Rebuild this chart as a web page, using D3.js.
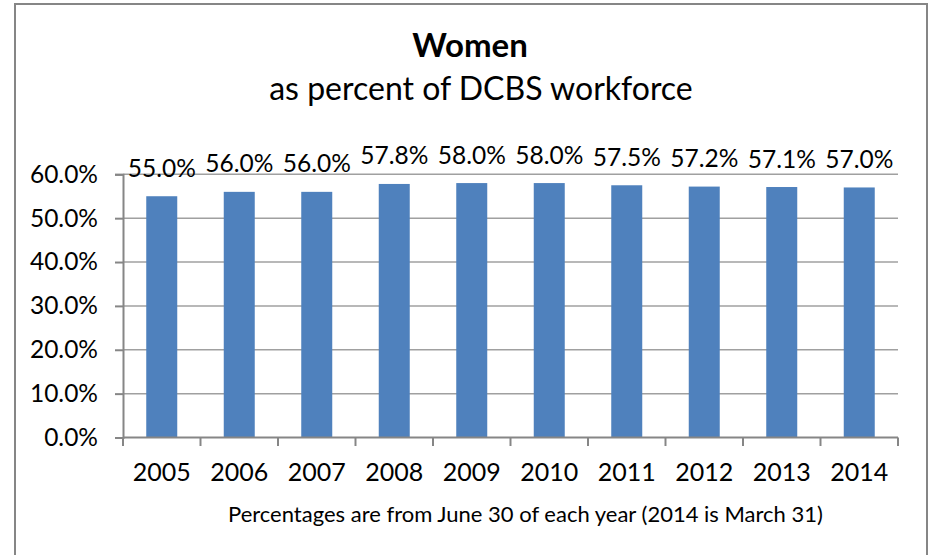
<!DOCTYPE html>
<html>
<head>
<meta charset="utf-8">
<script src="https://cdn.jsdelivr.net/npm/d3@7"></script>
<style>
  body { margin: 0; background: #fff; }
  svg { display: block; }
  text { font-family: Lato, "Open Sans", sans-serif; fill: #000; }
</style>
</head>
<body>
<svg id="chart" width="932" height="555"></svg>
<script>
// Women as a share of the DCBS workforce, by year
const years = ["2005", "2006", "2007", "2008", "2009", "2010", "2011", "2012", "2013", "2014"];
const womenPct = [55.0, 56.0, 56.0, 57.8, 58.0, 58.0, 57.5, 57.2, 57.1, 57.0];
const yTicks = [0, 10, 20, 30, 40, 50, 60];
const titleText = "Women";
const subtitleText = "as percent of DCBS workforce";
const noteText = "Percentages are from June 30 of each year (2014 is March 31)";

const svg = d3.select("#chart");
const plot = { left: 123, right: 898, top: 174.3, bottom: 437.5 };

// outer chart frame
svg.append("rect")
  .attr("x", 15).attr("y", 4)
  .attr("width", 912).attr("height", 570)
  .attr("fill", "#fff")
  .attr("stroke", "#868686").attr("stroke-width", 2);

const x = d3.scaleBand()
  .domain(years)
  .range([plot.left, plot.right])
  .paddingInner(0.6)
  .paddingOuter(0.3);

const y = d3.scaleLinear()
  .domain([0, 60])
  .range([plot.bottom, plot.top]);

// horizontal gridlines
svg.append("g")
  .selectAll("line")
  .data(yTicks.filter(d => d > 0))
  .join("line")
  .attr("x1", plot.left).attr("x2", plot.right)
  .attr("y1", d => y(d)).attr("y2", d => y(d))
  .attr("stroke", "#a0a0a0").attr("stroke-width", 1.5);

// y axis
const yAxis = svg.append("g")
  .attr("transform", `translate(${plot.left},0)`)
  .call(d3.axisLeft(y).tickValues(yTicks).tickSize(8).tickPadding(17)
    .tickFormat(d => d.toFixed(1) + "%"));
yAxis.select(".domain").attr("stroke", "#868686").attr("stroke-width", 2);
yAxis.selectAll(".tick line").attr("stroke", "#868686").attr("stroke-width", 2);
yAxis.selectAll(".tick text")
  .style("font-family", "Lato, 'Open Sans', sans-serif")
  .style("font-size", "24.5px").attr("fill", "#000");

// bars
svg.append("g")
  .selectAll("rect")
  .data(years.map((yr, i) => ({ yr, v: womenPct[i] })))
  .join("rect")
  .attr("x", d => x(d.yr))
  .attr("y", d => y(d.v))
  .attr("width", x.bandwidth())
  .attr("height", d => y(0) - y(d.v))
  .attr("fill", "#4f81bd");

// x axis line and category boundary ticks
const step = x.step();
const gap = step - x.bandwidth();
const bounds = years.map(yr => x(yr) - gap / 2).concat([x(years[years.length - 1]) + x.bandwidth() + gap / 2]);
svg.append("line")
  .attr("x1", plot.left).attr("x2", plot.right)
  .attr("y1", y(0)).attr("y2", y(0))
  .attr("stroke", "#868686").attr("stroke-width", 2);
svg.append("g")
  .selectAll("line")
  .data(bounds)
  .join("line")
  .attr("x1", d => d).attr("x2", d => d)
  .attr("y1", y(0)).attr("y2", y(0) + 8.5)
  .attr("stroke", "#868686").attr("stroke-width", 2);

// year labels
svg.append("g")
  .selectAll("text")
  .data(years)
  .join("text")
  .attr("x", d => x(d) + x.bandwidth() / 2)
  .attr("y", 480.5)
  .attr("text-anchor", "middle")
  .style("font-size", "25px")
  .text(d => d);

// value labels above bars
svg.append("g")
  .selectAll("text")
  .data(years.map((yr, i) => ({ yr, v: womenPct[i] })))
  .join("text")
  .attr("x", d => x(d.yr) + x.bandwidth() / 2)
  .attr("y", d => y(d.v) - 19.5)
  .attr("text-anchor", "middle")
  .style("font-size", "24.5px")
  .text(d => d.v.toFixed(1) + "%");

// titles
svg.append("text")
  .attr("x", 470).attr("y", 56.5)
  .attr("text-anchor", "middle")
  .style("font-size", "33px").style("font-weight", "bold")
  .text(titleText);
svg.append("text")
  .attr("x", 481).attr("y", 100)
  .attr("text-anchor", "middle")
  .style("font-size", "32px")
  .text(subtitleText);

// footnote
svg.append("text")
  .attr("x", 228).attr("y", 521.5)
  .style("font-size", "22px")
  .text(noteText);
</script>
</body>
</html>
